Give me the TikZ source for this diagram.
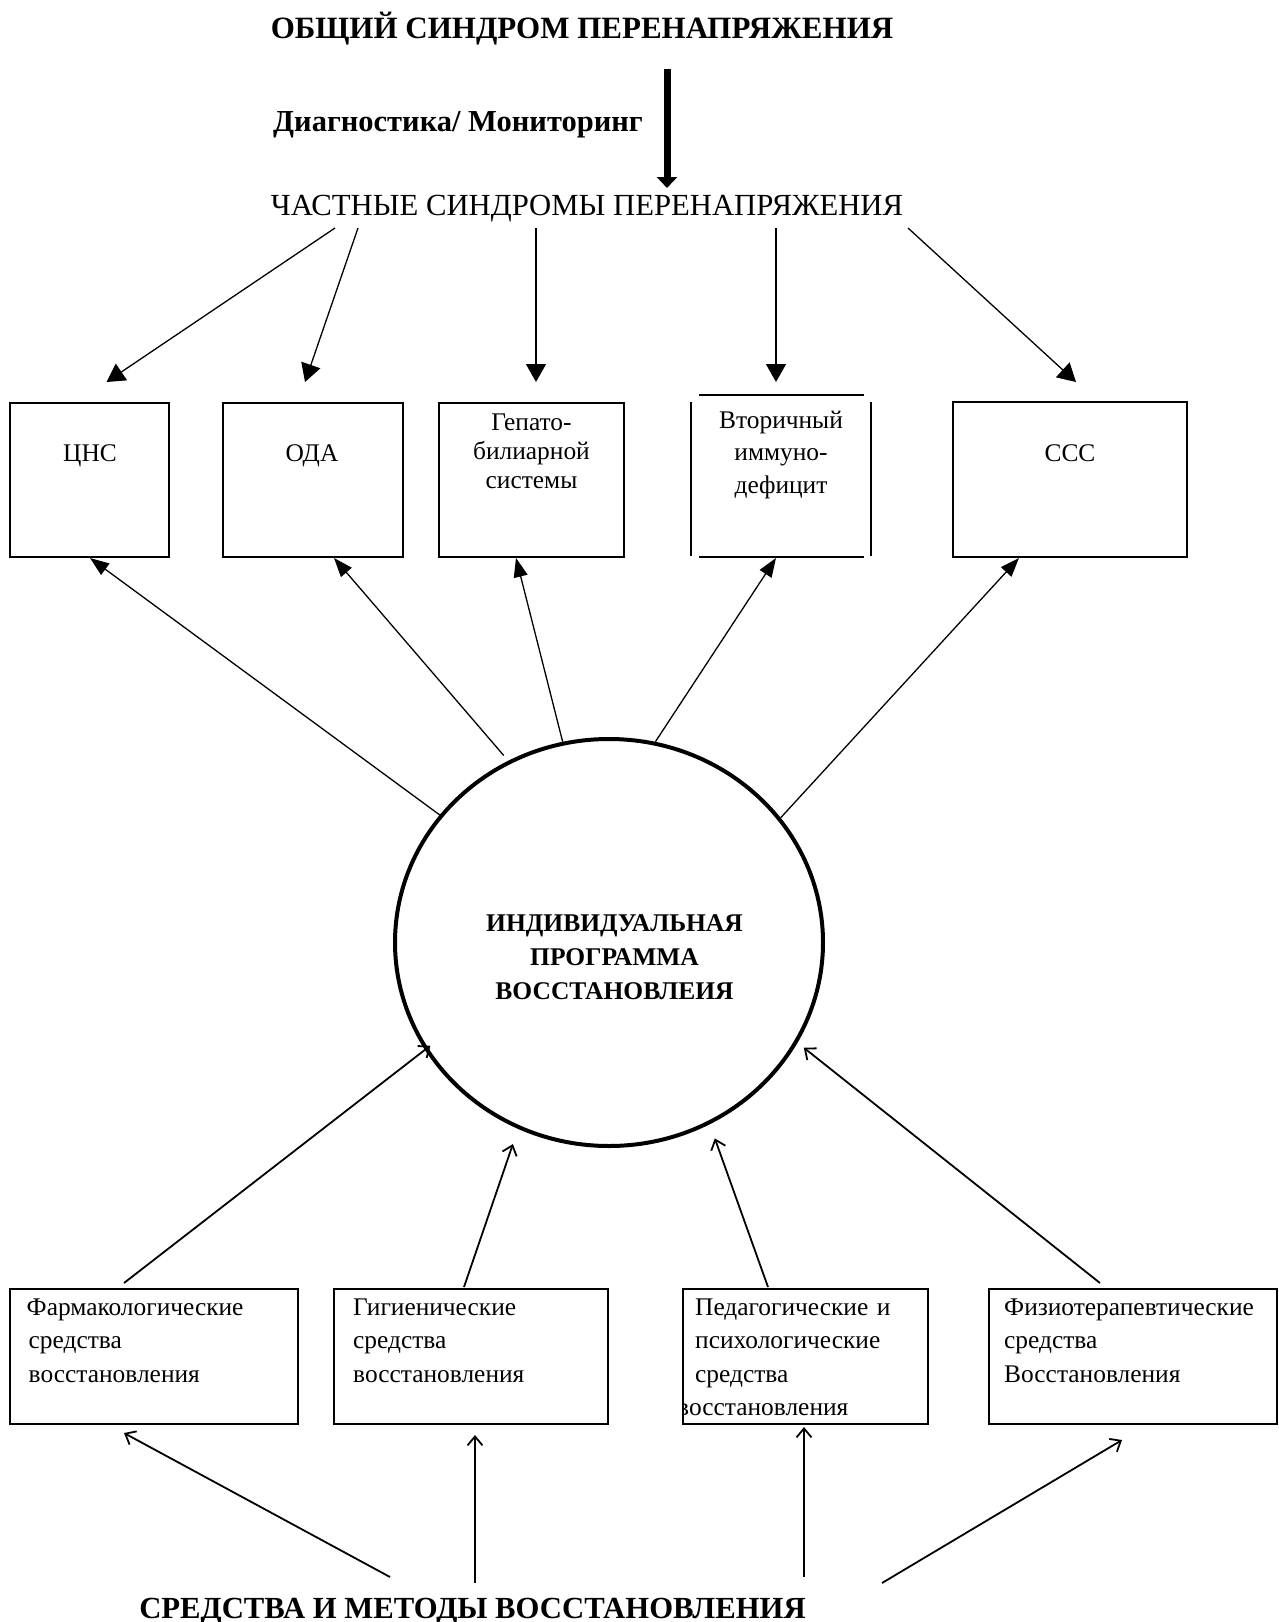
\documentclass[tikz,border=0pt]{standalone}
\usepackage{fontspec}
\setmainfont{Liberation Serif}
\usetikzlibrary{arrows.meta,shapes.geometric}

\tikzset{
  box/.style={draw, line width=2pt, anchor=north west, inner sep=0pt, outer sep=0pt},
  lbl/.style={inner sep=0pt, font=\fontsize{25.4}{33.5}\selectfont},
  down/.style={line width=1.3pt, -{Triangle[width=20pt,length=18pt]}},
  up/.style={line width=1.3pt, -{Triangle[width=14pt,length=19pt]}},
  open/.style={line width=1.8pt, -{Straight Barb[width=15pt,length=9pt]}}
}

\begin{document}
\begin{tikzpicture}[x=1pt,y=-1pt]
    \path[use as bounding box, fill=white] (0,0) rectangle (1279,1622);

    % headings
    \node[inner sep=0pt, anchor=base, font=\fontsize{31}{31}\selectfont\bfseries] (obsh) at (582,38) {ОБЩИЙ СИНДРОМ ПЕРЕНАПРЯЖЕНИЯ};
    \node[inner sep=0pt, anchor=base west, font=\fontsize{30.5}{30.5}\selectfont\bfseries] (diag) at (273,131) {Диагностика/ Мониторинг};
    \node[inner sep=0pt, anchor=base, font=\fontsize{30.7}{30.7}\selectfont] (chast) at (587,215) {ЧАСТНЫЕ СИНДРОМЫ ПЕРЕНАПРЯЖЕНИЯ};
    \node[inner sep=0pt, anchor=base, font=\fontsize{30.7}{30.7}\selectfont\bfseries] (sredstva) at (472.5,1618) {СРЕДСТВА И МЕТОДЫ ВОССТАНОВЛЕНИЯ};

    \coordinate (d0) at (667,69);
    \coordinate (d1) at (667,188);
    \draw[line width=7pt, -{Triangle[width=20pt,length=11pt]}] (d0) -- (d1);

    % upper boxes
    \node[box, minimum width=159pt, minimum height=154pt] (cns) at (10,403) {};
    \node[box, minimum width=180pt, minimum height=154pt] (oda) at (223,403) {};
    \node[box, minimum width=185pt, minimum height=154pt] (gep) at (439,403) {};
    \node[inner sep=0pt, outer sep=0pt, anchor=north west, minimum width=180pt, minimum height=162pt] (vtor) at (691,395) {};
    \node[box, minimum width=234pt, minimum height=155pt] (ccc) at (953,402) {};
    \draw[line width=2pt] ([xshift=8pt]vtor.north west) -- ([xshift=-7pt]vtor.north east);
    \draw[line width=2pt] ([xshift=8pt]vtor.south west) -- ([xshift=-7pt]vtor.south east);
    \draw[line width=2pt] ([yshift=-7pt]vtor.north west) -- ([yshift=1pt]vtor.south west);
    \draw[line width=2pt] ([yshift=-7pt]vtor.north east) -- ([yshift=1pt]vtor.south east);

    \node[lbl, anchor=base] at (90,461) {ЦНС};
    \node[lbl, anchor=base] at (312,461) {ОДА};
    \node[lbl, anchor=base, align=center, text width=180pt, font=\fontsize{25.4}{29}\selectfont] at (531.5,430) {Гепато-\\билиарной\\системы};
    \node[lbl, anchor=base, align=center, text width=175pt, font=\fontsize{25.4}{32.5}\selectfont] at (781,428) {Вторичный\\иммуно-\\дефицит};
    \node[lbl, anchor=base] at (1070,461) {ССС};

    % arrows from the particular syndromes
    \coordinate (s1) at (335,228);
    \coordinate (s2) at (358,228);
    \coordinate (s3) at (536,228);
    \coordinate (s4) at (776,228);
    \coordinate (s5) at (908,228);
    \draw[down] (s1) -- ([xshift=17pt,yshift=21pt]cns.north);
    \draw[down] (s2) -- ([xshift=-8pt,yshift=21pt]oda.north);
    \draw[down] (s3) -- ([xshift=4.5pt,yshift=21pt]gep.north);
    \draw[down] (s4) -- ([xshift=-5pt,yshift=13pt]vtor.north);
    \draw[down] (s5) -- ([xshift=6pt,yshift=20pt]ccc.north);

    % programme
    \node[draw, ellipse, line width=4pt, minimum width=428pt, minimum height=407pt, inner sep=0pt] (prog) at (609,942.5) {};
    \node[lbl, anchor=base, align=center, text width=300pt, font=\fontsize{25.5}{34}\selectfont\bfseries] (progtxt) at (614.5,931) {ИНДИВИДУАЛЬНАЯ\\ПРОГРАММА\\ВОССТАНОВЛЕИЯ};

    \draw[up] (prog.143.3) -- ([xshift=0.5pt,yshift=-1pt]cns.south);
    \draw[up, shorten <=7pt] (prog.119.8) -- ([xshift=21pt,yshift=-1pt]oda.south);
    \draw[up] (prog.103.2) -- ([xshift=-15.5pt,yshift=-1pt]gep.south);
    \draw[up] (prog.77.6) -- ([xshift=-5pt,yshift=-1pt]vtor.south);
    \draw[up] (prog.36.8) -- ([xshift=-51pt,yshift=-1pt]ccc.south);

    % lower boxes
    \node[box, minimum width=288pt, minimum height=135pt] (farm) at (10,1289) {};
    \node[box, minimum width=274pt, minimum height=135pt] (gig) at (334,1289) {};
    \node[box, minimum width=245pt, minimum height=135pt] (ped) at (683,1289) {};
    \node[box, minimum width=288pt, minimum height=135pt] (fizio) at (989,1289) {};

    \node[lbl, anchor=base west, align=left, text width=270pt] at (26.5,1315) {Фармакологические\\\hspace*{2pt}средства\\\hspace*{2pt}восстановления};
    \node[lbl, anchor=base west, align=left, text width=250pt] at (353,1315) {Гигиенические\\средства\\восстановления};
    \begin{scope}
      \clip (684,1289) rectangle (1279,1622);
      \node[lbl, anchor=base west, align=left, text width=230pt] at (695,1315) {Педагогические и\\психологические\\средства\\\hspace*{-18pt}восстановления};
    \end{scope}
    \node[lbl, anchor=base west, align=left, text width=270pt] at (1004,1315) {Физиотерапевтические\\средства\\Восстановления};

    \draw[open] ([xshift=-30pt,yshift=6pt]farm.north) -- ([shift={(6pt,3.5pt)}]prog.210.3);
    \draw[open, shorten >=16pt] ([xshift=-7pt,yshift=2pt]gig.north) -- (prog.244.9);
    \draw[open, shorten >=15pt] ([xshift=-37.5pt,yshift=2pt]ped.north) -- (prog.299);
    \draw[open, shorten >=8pt] ([xshift=-33pt,yshift=6pt]fizio.north) -- (prog.332.4);

    % means and methods
    \coordinate (b1) at (390,1577);
    \coordinate (b2) at (475,1583);
    \coordinate (b3) at (804,1577);
    \coordinate (b4) at (882,1583);
    \draw[open] (b1) -- ([xshift=-30pt,yshift=-9pt]farm.south);
    \draw[open] (b2) -- ([xshift=4pt,yshift=-11pt]gig.south);
    \draw[open] (b3) -- ([xshift=-1.5pt,yshift=-3pt]ped.south);
    \draw[open] (b4) -- ([xshift=-11pt,yshift=-16pt]fizio.south);
\end{tikzpicture}
\end{document}
